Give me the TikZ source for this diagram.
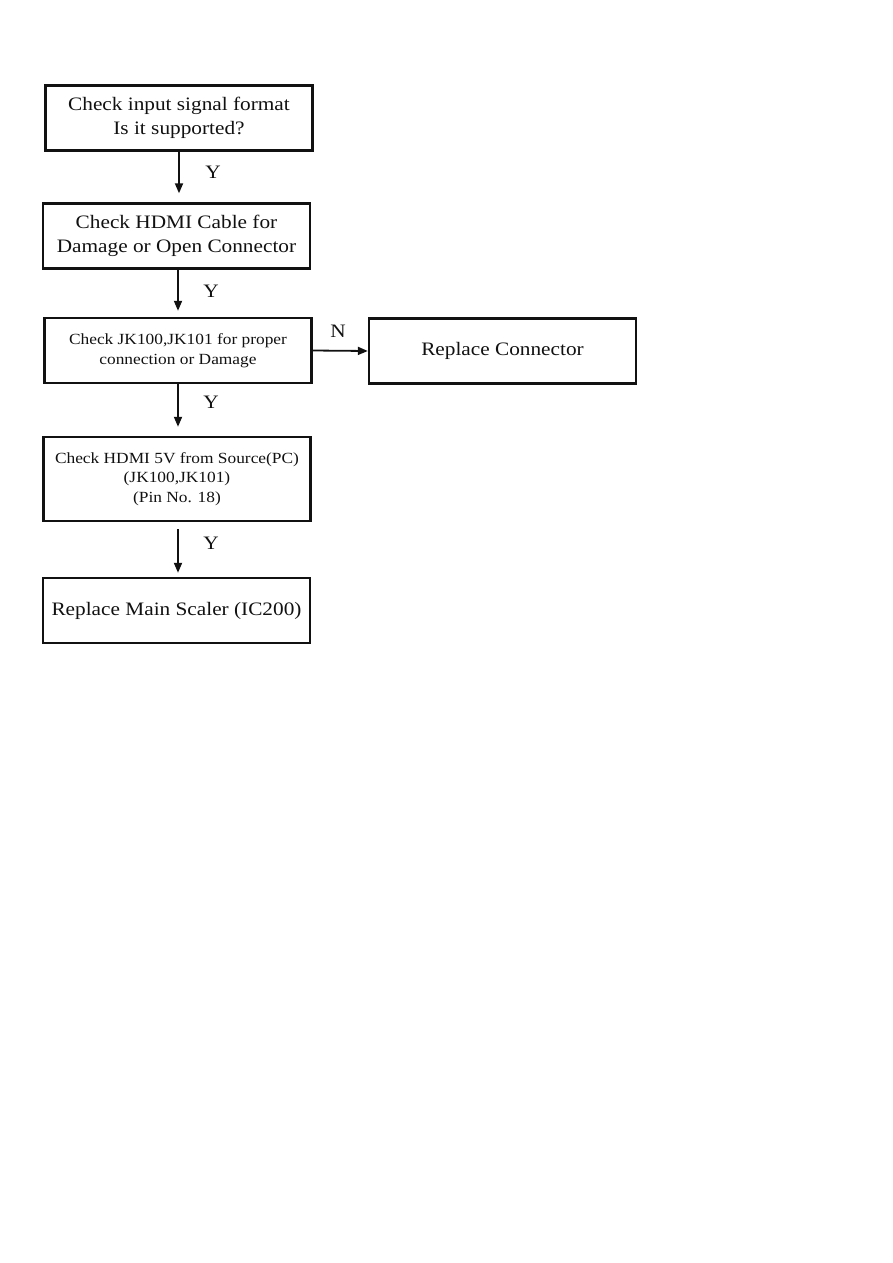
\documentclass[tikz,border=0pt]{standalone}
\usepackage{fontspec}
\setmainfont{Liberation Serif}[FakeStretch=1.12]
\usetikzlibrary{arrows.meta}
\definecolor{flowink}{HTML}{111111}

\begin{document}
\begin{tikzpicture}[
  x=1pt,
  y=-1pt,
  every node/.style={font=\fontsize{19}{24}\selectfont, text=flowink},
  stepbox/.style={draw=flowink, line width=2.4pt, minimum width=267,
    minimum height=65, align=center, inner sep=2pt},
  smallbox/.style={stepbox, font=\fontsize{15.5}{19.5}\selectfont},
  flow/.style={draw=flowink, line width=1.8pt,
    -{Triangle[length=10pt,width=8pt]}},
  >=stealth
]
  \useasboundingbox (0,0) rectangle (893,1263);

  % ---- checks down the left column ---------------------------------------
  \node[stepbox] (signal) at (179,118) {Check input signal format\\Is it supported?};
  \node[stepbox] (cable) at (176.5,236) {Check HDMI Cable for\\Damage or Open Connector};
  \node[smallbox] (jack) at (178,350.5) {Check JK100,JK101 for proper\\connection or Damage};
  \node[smallbox, minimum height=84] (power) at (177,479)
    {Check HDMI 5V from Source(PC)\\(JK100,JK101)\\(Pin No. 18)};
  \node[stepbox] (scaler) at (176.5,610.5) {Replace Main Scaler (IC200)};

  % ---- the one branch to the right ---------------------------------------
  \node[stepbox] (connector) at (502.5,351) {Replace Connector};

  % ---- connectors ------------------------------------------------------------
  \draw[flow, shorten >=9pt] (179,0 |- signal.south) -- (179,0 |- cable.north);
  \draw[flow, shorten >=6pt] (178,0 |- cable.south) -- (178,0 |- jack.north);
  \draw[flow, shorten >=9pt] (178,0 |- jack.south) -- (178,0 |- power.north);
  \draw[flow, shorten <=7pt, shorten >=4pt] (178,0 |- power.south) -- (178,0 |- scaler.north);
  \draw[flow] (jack.east) -- (connector.west);

  \node (y1) at (213,172) {Y};
  \node (y2) at (211,291) {Y};
  \node (y3) at (211,402) {Y};
  \node (y4) at (211,543) {Y};
  \node (n1) at (338,331) {N};
\end{tikzpicture}
\end{document}
